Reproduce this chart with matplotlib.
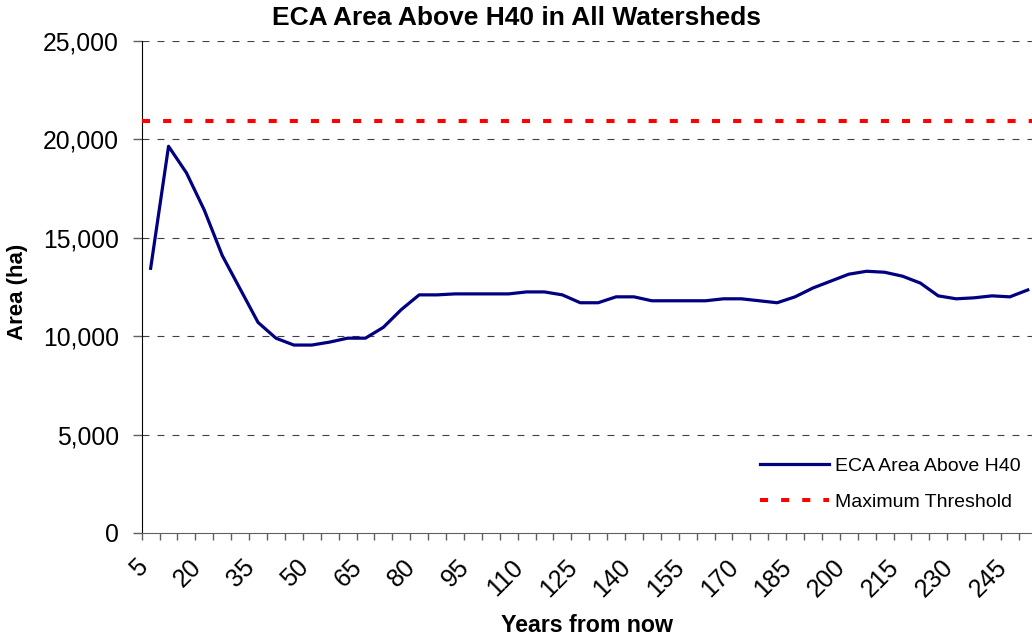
import matplotlib
matplotlib.use('Agg')
import matplotlib.pyplot as plt
from matplotlib.ticker import FuncFormatter
from matplotlib.transforms import ScaledTranslation
import numpy as np

## years from now (category axis, every 5 years)
years = list(range(5, 255, 5))

## ECA area above H40 (ha)
eca_area = [13450, 19650, 18300, 16400, 14100, 12400, 10700, 9900, 9550, 9550,
            9700, 9900, 9900, 10450, 11350, 12100, 12100, 12150, 12150, 12150,
            12150, 12250, 12250, 12100, 11700, 11700, 12000, 12000, 11800, 11800,
            11800, 11800, 11900, 11900, 11800, 11700, 12000, 12450, 12800, 13150,
            13300, 13250, 13050, 12700, 12050, 11900, 11950, 12050, 12000, 12350]

max_threshold = 20950

y_ticks = [0, 5000, 10000, 15000, 20000, 25000]
label_every = 3

plt.rcParams['font.family'] = ['Liberation Sans', 'DejaVu Sans']
plt.rcParams['lines.scale_dashes'] = False

W, H = 1032, 640
fig = plt.figure(figsize=(W / 100, H / 100), dpi=100)

# plot area in pixels (right edge runs past the picture, as in the original)
left_px, right_px, top_px, bot_px = 141.7, 1036.7, 41.0, 533.0
ax = fig.add_axes([left_px / W, 1 - bot_px / H,
                   (right_px - left_px) / W, (bot_px - top_px) / H])

x = np.arange(len(years))
ax.plot(x, eca_area, color='#000080', lw=2.3, solid_joinstyle='round',
        label='ECA Area Above H40', zorder=3)
ax.plot([-0.5, len(years) - 0.5], [max_threshold, max_threshold], color='#ff0000',
        lw=2.9, dashes=(5.8, 9.4), label='Maximum Threshold', zorder=3)

ax.set_xlim(-0.5, len(years) - 0.5)
ax.set_ylim(0, 25000)

# y axis
ax.set_yticks(y_ticks)
ax.yaxis.set_major_formatter(FuncFormatter(lambda v, p: '{:,.0f}'.format(v)))
ax.tick_params(axis='y', direction='out', length=6.5, width=1, color='#606060',
               labelsize=17.8, pad=10)
for yv in y_ticks[1:]:
    ax.axhline(yv, color='#404040', lw=0.8, dashes=(5, 5.8), zorder=1)

# x axis: tick marks between categories, labels on every third category
ax.set_xticks(np.arange(-0.5, len(years), 1))
ax.set_xticklabels([])
ax.tick_params(axis='x', which='major', direction='out', length=5, width=1,
               color='#606060')
ax.set_xticks(x[::label_every], minor=True)
ax.set_xticklabels([str(y) for y in years[::label_every]], minor=True,
                   rotation=45, ha='right', va='center', rotation_mode='anchor',
                   fontsize=18)
ax.tick_params(axis='x', which='minor', length=0, pad=22)
shift = ScaledTranslation(-7 / 100, 0, fig.dpi_scale_trans)
for lab in ax.get_xticklabels(minor=True):
    lab.set_transform(lab.get_transform() + shift)

for s in ['top', 'right']:
    ax.spines[s].set_visible(False)
ax.spines['left'].set_color('black')
ax.spines['bottom'].set_color('#606060')

fig.text(516 / W, 1 - 18 / H, 'ECA Area Above H40 in All Watersheds',
         ha='center', va='center', fontsize=19, fontweight='bold')
fig.text(587 / W, 1 - 626 / H, 'Years from now', ha='center', va='center',
         fontsize=16.7, fontweight='bold')
fig.text(18 / W, 1 - 292 / H, 'Area (ha)', ha='center', va='center',
         rotation=90, fontsize=16, fontweight='bold')

handles, labels = ax.get_legend_handles_labels()
fig.legend(handles, labels, loc='center left',
           bbox_to_anchor=(760 / W, 1 - 484 / H), frameon=False,
           fontsize=14, handlelength=3.55, handletextpad=0.3,
           labelspacing=0.93, borderpad=0, borderaxespad=0)

fig.savefig('out.png', dpi=100)
